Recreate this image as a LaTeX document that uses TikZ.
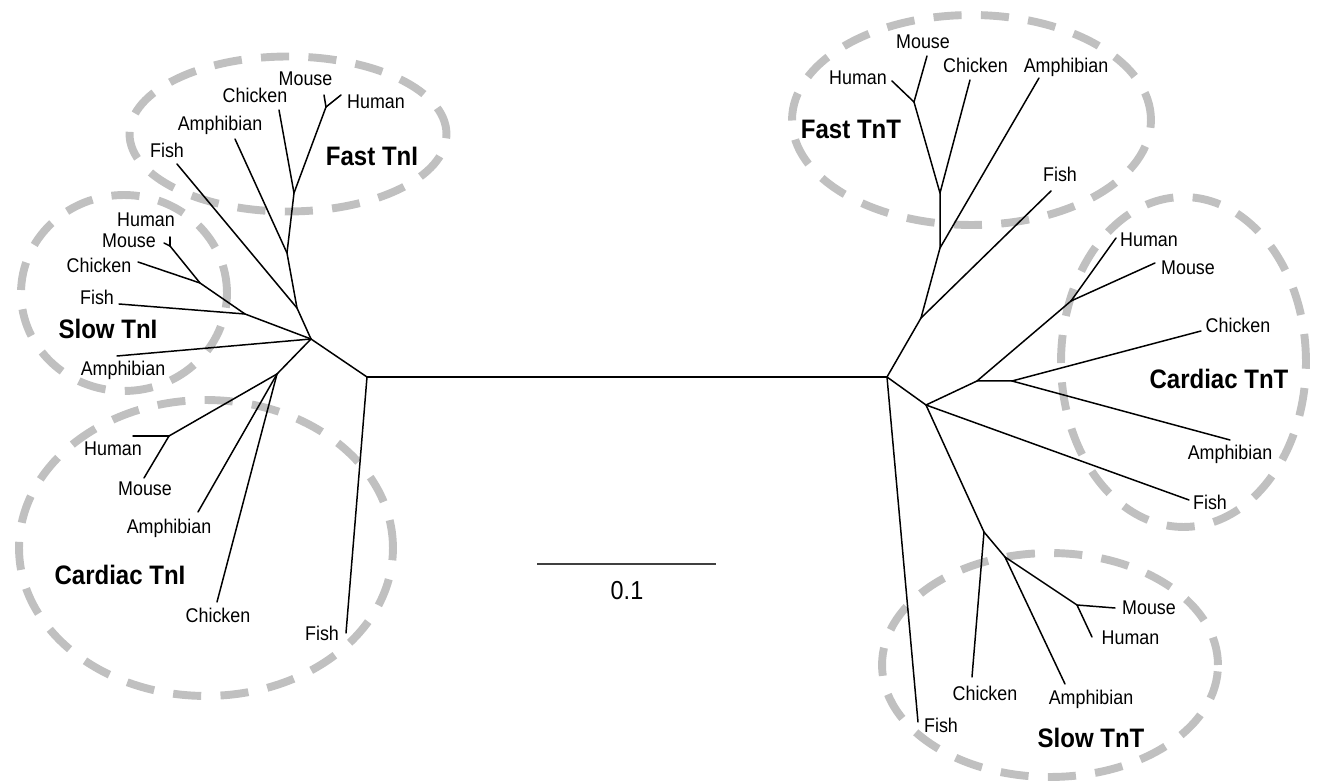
\documentclass[tikz,border=0pt]{standalone}
\usepackage{fontspec}
\setmainfont{Liberation Sans}[FakeStretch=0.9]
\definecolor{ringgray}{RGB}{192,192,192}
\definecolor{bargray}{RGB}{64,64,64}
\begin{document}
\begin{tikzpicture}[x=0.02cm,y=-0.02cm,
  br/.style={line width=0.85pt,line join=round,line cap=round},
  lab/.style={font=\fontsize{11.3}{13}\selectfont,inner sep=0pt,text height=8.1pt,text depth=0pt},
  grp/.style={font=\fontsize{15.2}{17}\selectfont\bfseries,inner sep=0pt,text height=10.9pt,text depth=0pt},
  ring/.style={draw=ringgray,line width=4.5pt,dash pattern=on 16pt off 11pt},
  bar/.style={draw=bargray,line width=1.1pt}]
\useasboundingbox (0,0) rectangle (1320,783);

% ---------- group rings ----------
\draw[ring] (288,134) ellipse [x radius=3.17cm,y radius=1.55cm];
\draw[ring] (124,293) ellipse [x radius=2.06cm,y radius=1.96cm];
\draw[ring] (206,548) ellipse [x radius=3.74cm,y radius=2.96cm];
\draw[ring] (971.5,120) ellipse [x radius=3.59cm,y radius=2.10cm];
\draw[ring] (1183.5,362) ellipse [x radius=2.45cm,y radius=3.30cm];
\draw[ring] (1050,665) ellipse [x radius=3.36cm,y radius=2.24cm];

% ---------- left tree (TnI) ----------
\coordinate (L0) at (367,377);
\coordinate (Lr) at (311,339);
\coordinate (LfishT) at (346,633);
\coordinate (f1) at (297,308);
\coordinate (f2) at (287,253);
\coordinate (f3) at (294,193);
\coordinate (f4) at (326,107);
\coordinate (fFish) at (177,164);
\coordinate (fAmph) at (235,139);
\coordinate (fChick) at (279,110);
\coordinate (fMouse) at (324,95);
\coordinate (fHuman) at (341,95);
\coordinate (s1) at (245,314);
\coordinate (s2) at (200,283);
\coordinate (s3) at (170,246);
\coordinate (sAmph) at (117,356);
\coordinate (sFish) at (119,304);
\coordinate (sChick) at (138,262);
\coordinate (sMouse) at (164,243);
\coordinate (sHuman) at (170,237);
\coordinate (c0) at (277,374);
\coordinate (c1) at (169,436);
\coordinate (cHuman) at (133,436);
\coordinate (cMouse) at (144,478);
\coordinate (cAmph) at (198,512);
\coordinate (cChick) at (217,602);

% ---------- right tree (TnT) ----------
\coordinate (R0) at (887,377);
\coordinate (R1) at (921,318);
\coordinate (R2) at (940,248);
\coordinate (R3) at (940,193);
\coordinate (R4) at (914,102);
\coordinate (FTfish) at (1051,191);
\coordinate (FTamph) at (1039,78);
\coordinate (FTchick) at (970,80);
\coordinate (FTmouse) at (927,56);
\coordinate (FThuman) at (892,81);
\coordinate (R5) at (926,405);
\coordinate (STfish) at (918,722);
\coordinate (R6) at (977,381);
\coordinate (R7) at (1012,381);
\coordinate (CTn) at (1071,301);
\coordinate (CThuman) at (1116,238);
\coordinate (CTmouse) at (1155,263);
\coordinate (CTchick) at (1201,331);
\coordinate (CTamph) at (1230,440);
\coordinate (CTfish) at (1189,500);
\coordinate (R8) at (984,532);
\coordinate (STchick) at (972,677);
\coordinate (R9) at (1005,557);
\coordinate (STamph) at (1065,684);
\coordinate (R10) at (1077,605);
\coordinate (STmouse) at (1115,608);
\coordinate (SThuman) at (1092,637);

% ---------- branches ----------
\draw[br] (L0) -- (R0);
\draw[br] (L0) -- (Lr);
\draw[br] (L0) -- (LfishT);
\draw[br] (Lr) -- (f1) -- (f2) -- (f3) -- (f4);
\draw[br] (f1) -- (fFish);
\draw[br] (f2) -- (fAmph);
\draw[br] (f3) -- (fChick);
\draw[br] (f4) -- (fMouse);
\draw[br] (f4) -- (fHuman);
\draw[br] (Lr) -- (sAmph);
\draw[br] (Lr) -- (s1) -- (s2) -- (s3);
\draw[br] (s1) -- (sFish);
\draw[br] (s2) -- (sChick);
\draw[br] (s3) -- (sMouse);
\draw[br] (s3) -- (sHuman);
\draw[br] (Lr) -- (c0) -- (c1);
\draw[br] (c1) -- (cHuman);
\draw[br] (c1) -- (cMouse);
\draw[br] (c0) -- (cAmph);
\draw[br] (c0) -- (cChick);

\draw[br] (R0) -- (R1) -- (R2) -- (R3) -- (R4);
\draw[br] (R1) -- (FTfish);
\draw[br] (R2) -- (FTamph);
\draw[br] (R3) -- (FTchick);
\draw[br] (R4) -- (FTmouse);
\draw[br] (R4) -- (FThuman);
\draw[br] (R0) -- (STfish);
\draw[br] (R0) -- (R5) -- (R6) -- (R7);
\draw[br] (R6) -- (CTn);
\draw[br] (CTn) -- (CThuman);
\draw[br] (CTn) -- (CTmouse);
\draw[br] (R7) -- (CTchick);
\draw[br] (R7) -- (CTamph);
\draw[br] (R5) -- (CTfish);
\draw[br] (R5) -- (R8) -- (R9) -- (R10);
\draw[br] (R8) -- (STchick);
\draw[br] (R9) -- (STamph);
\draw[br] (R10) -- (STmouse);
\draw[br] (R10) -- (SThuman);

% ---------- labels left ----------
\node[lab] (lfMouse) at (305.5,78) {Mouse};
\node[lab] (lfHuman) at (376,101) {Human};
\node[lab] (lfChick) at (255,95) {Chicken};
\node[lab] (lfAmph) at (220,123) {Amphibian};
\node[lab] (lfFish) at (167,150) {Fish};
\node[grp] (gFTnI) at (372,156) {Fast TnI};
\node[lab] (lsHuman) at (146,219.5) {Human};
\node[lab] (lsMouse) at (129,240) {Mouse};
\node[lab] (lsChick) at (99,265) {Chicken};
\node[lab] (lsFish) at (97,297.5) {Fish};
\node[grp] (gSTnI) at (108,329) {Slow TnI};
\node[lab] (lsAmph) at (123,368) {Amphibian};
\node[lab] (lcHuman) at (113,448) {Human};
\node[lab] (lcMouse) at (145,488.5) {Mouse};
\node[lab] (lcAmph) at (169,526) {Amphibian};
\node[grp] (gCTnI) at (120,575) {Cardiac TnI};
\node[lab] (lcChick) at (218,615) {Chicken};
\node[lab] (lcFish) at (322,633) {Fish};

% ---------- labels right ----------
\node[lab] (rfMouse) at (923,41) {Mouse};
\node[lab] (rfHuman) at (858,77) {Human};
\node[lab] (rfChick) at (975.5,65) {Chicken};
\node[lab] (rfAmph) at (1066,65) {Amphibian};
\node[grp] (gFTnT) at (851,129) {Fast TnT};
\node[lab] (rfFish) at (1060,174) {Fish};
\node[lab] (rcHuman) at (1149,239) {Human};
\node[lab] (rcMouse) at (1188,267) {Mouse};
\node[lab] (rcChick) at (1238,325) {Chicken};
\node[grp] (gCTnT) at (1219,379) {Cardiac TnT};
\node[lab] (rcAmph) at (1230,452) {Amphibian};
\node[lab] (rcFish) at (1210,502) {Fish};
\node[lab] (rsMouse) at (1149,607) {Mouse};
\node[lab] (rsHuman) at (1130.5,637) {Human};
\node[lab] (rsChick) at (985,693.5) {Chicken};
\node[lab] (rsAmph) at (1091,697) {Amphibian};
\node[lab] (rsFish) at (941,725) {Fish};
\node[grp] (gSTnT) at (1091,738) {Slow TnT};

% ---------- scale bar ----------
\coordinate (sb1) at (537,564);
\coordinate (sb2) at (716,564);
\draw[bar] (sb1) -- (sb2);
\node[font=\fontsize{14.8}{17}\selectfont,inner sep=0pt,text height=10.6pt,text depth=0pt] (sbl) at (627,590) {0.1};
\end{tikzpicture}
\end{document}
